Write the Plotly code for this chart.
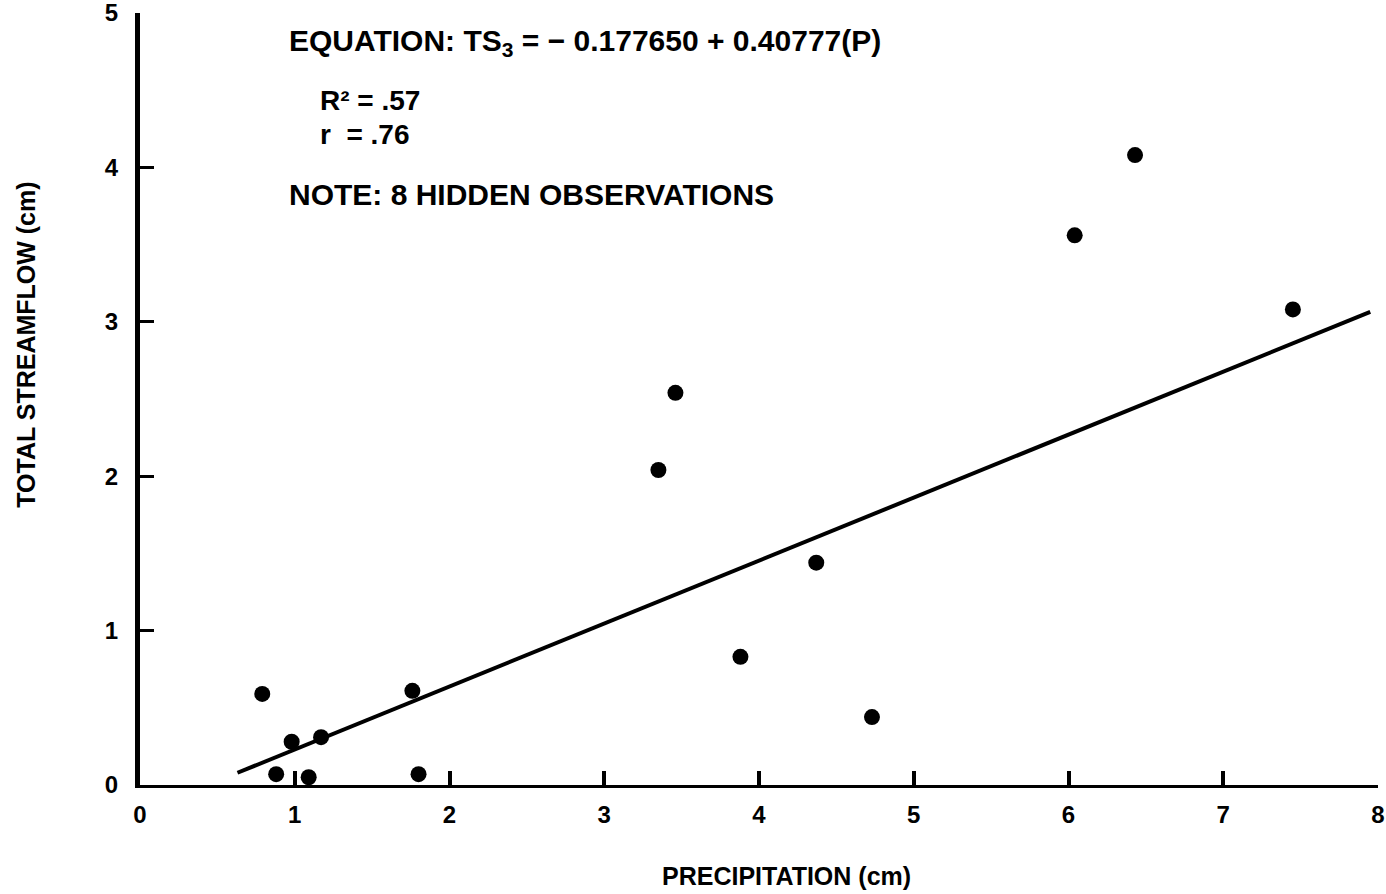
import plotly.graph_objects as go

# Observed precipitation vs. total streamflow (cm)
precip = [0.79, 0.88, 0.98, 1.09, 1.17, 1.76, 1.80, 3.35, 3.46, 3.88,
          4.37, 4.73, 6.04, 6.43, 7.45]
streamflow = [0.59, 0.07, 0.28, 0.05, 0.31, 0.61, 0.07, 2.04, 2.54, 0.83,
              1.44, 0.44, 3.56, 4.08, 3.08]

# Fitted regression TS3 = a + b*P
intercept = -0.177650
slope = 0.40777
fit_x = [0.63, 7.95]
fit_y = [intercept + slope * p for p in fit_x]

x_ticks = [0, 1, 2, 3, 4, 5, 6, 7, 8]
y_ticks = [0, 1, 2, 3, 4, 5]

FONT = "Liberation Sans, Arial, sans-serif"

W, H = 1386, 894
L, R, T, B = 140, 8, 13, 108.5
PW, PH = W - L - R, H - T - B


def px(x):
    return (x - L) / PW


def py(y):
    return (H - B - y) / PH


fig = go.Figure()
fig.add_trace(go.Scatter(
    x=fit_x, y=fit_y, mode="lines",
    line=dict(color="black", width=4),
    cliponaxis=False, hoverinfo="skip", showlegend=False,
))
fig.add_trace(go.Scatter(
    x=precip, y=streamflow, mode="markers",
    marker=dict(color="black", size=16, line=dict(width=0)),
    cliponaxis=False, showlegend=False,
))

notes = [
    ("EQUATION: TS<sub>3</sub> = \u2212 0.177650 + 0.40777(P)", 287, 43, 30),
    ("R\u00b2 = .57", 318, 101, 28),
    ("r  = .76", 318, 135, 28),
    ("NOTE: 8 HIDDEN OBSERVATIONS", 287, 195, 30),
]
annotations = []
for txt, ax_, ay_, fs in notes:
    annotations.append(dict(
        text=txt, xref="paper", yref="paper", x=px(ax_), y=py(ay_),
        xanchor="left", yanchor="middle", showarrow=False,
        font=dict(family=FONT, size=fs, color="black", weight="bold"),
    ))

annotations.append(dict(
    text="PRECIPITATION (cm)", xref="paper", yref="paper",
    x=px(786), y=py(877), xanchor="center", yanchor="middle",
    showarrow=False, font=dict(family=FONT, size=25, color="black", weight="bold"),
))
annotations.append(dict(
    text="TOTAL STREAMFLOW (cm)", xref="paper", yref="paper",
    x=px(26), y=py(345), xanchor="center", yanchor="middle", textangle=-90,
    showarrow=False, font=dict(family=FONT, size=25, color="black", weight="bold"),
))

fig.update_layout(
    width=W, height=H,
    margin=dict(l=L, r=R, t=T, b=B, pad=0),
    paper_bgcolor="white", plot_bgcolor="white",
    annotations=annotations,
    xaxis=dict(
        range=[0, 8], tickvals=x_ticks, ticktext=[str(v) for v in x_ticks],
        automargin=False,
        showgrid=False, zeroline=False, showline=True,
        linecolor="black", linewidth=3,
        ticks="inside", ticklen=14, tickwidth=4, tickcolor="black",
        ticklabelstandoff=6, ticklabeloverflow="allow",
        tickfont=dict(family=FONT, size=24, color="black", weight="bold"),
    ),
    yaxis=dict(
        range=[0, 5], tickvals=y_ticks, ticktext=[str(v) for v in y_ticks],
        automargin=False,
        showgrid=False, zeroline=False, showline=True,
        linecolor="black", linewidth=5,
        ticks="inside", ticklen=14, tickwidth=3, tickcolor="black",
        ticklabelstandoff=12, ticklabeloverflow="allow",
        tickfont=dict(family=FONT, size=24, color="black", weight="bold"),
    ),
)

fig.write_html("out.html")
